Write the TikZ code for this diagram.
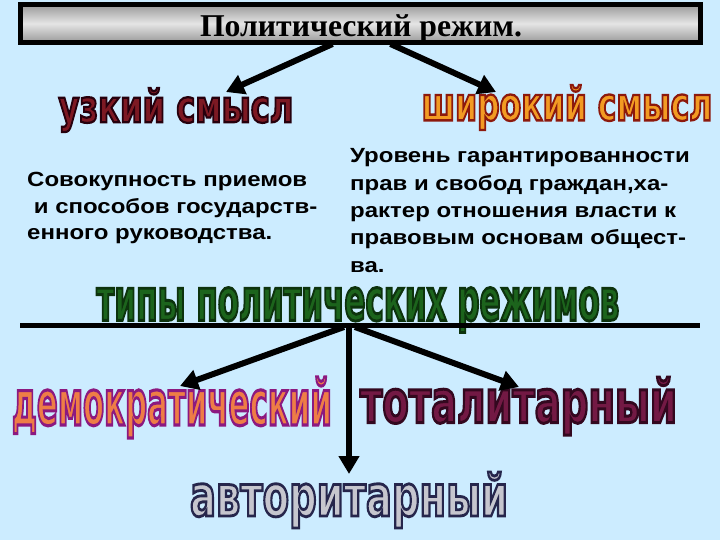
\documentclass[tikz,border=0pt]{standalone}
\usepackage{fontspec}
\setmainfont{Liberation Serif}
\setsansfont{Liberation Sans}
\newfontfamily\bodyfont[FakeStretch=1.17]{Liberation Sans Bold}
\newfontfamily\wafont{DejaVu Sans Condensed}
\usetikzlibrary{arrows.meta,calc}
\definecolor{bg}{RGB}{204,236,255}
\definecolor{narrowC}{RGB}{125,25,35}
\definecolor{wideC}{RGB}{242,155,35}
\definecolor{typeC}{RGB}{28,100,28}
\definecolor{demC}{RGB}{238,125,70}
\definecolor{totC}{RGB}{115,25,68}
\definecolor{autC}{RGB}{198,198,206}
% fill colour, outline colour (as r g b), text
\newcommand{\outl}[3]{\textcolor{#1}{\special{pdf:literal direct 2 Tr 1.5 w #2 RG}#3\special{pdf:literal direct 0 Tr}}}
% width, total height, fill, outline, text
\newcommand{\wordart}[5]{\resizebox*{#1}{#2}{\outl{#3}{#4}{\fontsize{30}{30}\selectfont\wafont\bfseries #5}}}
\tikzset{
  arr/.style={line width=6pt,-{Triangle[length=18pt,width=20pt]}},
  wa/.style={inner sep=0pt,outer sep=0pt},
  body/.style={inner sep=0pt,anchor=base west,align=left,text=black}
}
\begin{document}
\begin{tikzpicture}[x=1pt,y=-1pt]
\fill[bg] (0,0) rectangle (720,540);
\useasboundingbox (0,0) rectangle (720,540);
\node[draw=black,line width=5pt,minimum width=680pt,minimum height=38pt,inner sep=0pt,
  top color=gray!80,bottom color=gray!80,middle color=gray!20] (titlebox) at (360.5,23.5) {};
\node[inner sep=0pt,anchor=base] (title) at (361,37)
  {\resizebox{322pt}{!}{\bfseries\fontsize{33}{33}\selectfont Политический режим.}};
\node[wa] (narrow) at (176,110) {\wordart{235pt}{44pt}{narrowC}{0.15 0 0.05}{узкий смысл}};
\node[wa] (wide) at (567,107.5) {\wordart{291pt}{45pt}{wideC}{0.55 0.1 0.05}{широкий смысл}};
\node[body,font=\bodyfont\fontsize{20.5}{26.5}\selectfont] (ndef) at (27,240)
  {Совокупность приемов\\ \ и способов государств-\\енного руководства.};
\node[body,font=\bodyfont\fontsize{20.5}{27.25}\selectfont] (wdef) at (350,272)
  {Уровень гарантированности\\прав и свобод граждан,ха-\\рактер отношения власти к\\правовым основам общест-\\ва.};
\node[wa] (types) at (358,310) {\wordart{523pt}{45pt}{typeC}{0.05 0.2 0.05}{типы политических режимов}};
\coordinate (hl) at (20,325);
\coordinate (hr) at (700,325);
\coordinate (hub) at (349,327);
\node[wa] (dem) at (172,407.5) {\wordart{320pt}{61pt}{demC}{0.55 0.1 0.5}{демократический}};
\node[wa] (tot) at (518.5,406) {\wordart{317pt}{58pt}{totC}{0.2 0.03 0.12}{тоталитарный}};
\node[wa] (aut) at (349,500) {\wordart{318pt}{56pt}{autC}{0.15 0.15 0.3}{авторитарный}};
\draw[arr] ([xshift=-28pt,yshift=1pt]titlebox.south) -- (226,92);
\draw[arr] ([xshift=30pt,yshift=1pt]titlebox.south) -- (496,92);
\draw[line width=5pt] (hl) -- (hr);
\draw[arr] ([xshift=-5pt]hub) -- (180,386);
\draw[arr] ([xshift=6pt]hub) -- (519,387);
\draw[arr] (hub) -- (349,474);
\end{tikzpicture}
\end{document}
